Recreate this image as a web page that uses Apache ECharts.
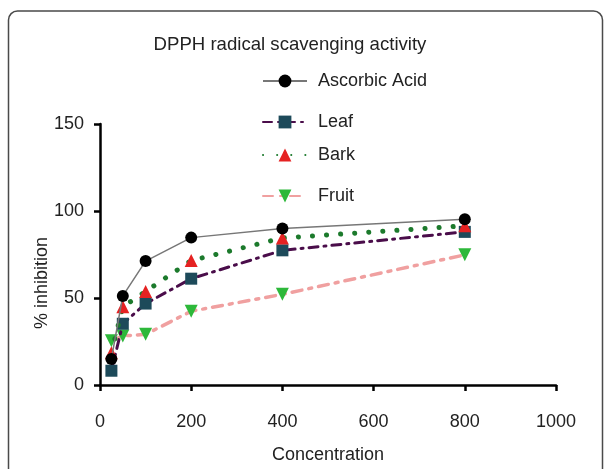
<!DOCTYPE html>
<html>
<head>
<meta charset="utf-8">
<script src="https://cdn.jsdelivr.net/npm/echarts@6/dist/echarts.min.js"></script>
<style>html,body{margin:0;padding:0;background:#fff;}#c{width:604px;height:469px;}</style>
</head>
<body>
<div id="c"></div>
<script>
const concentrations = [25, 50, 100, 200, 400, 800];
const ascorbicAcid = [15, 51.2, 71.2, 84.7, 90, 95.3];
const leaf = [8.2, 35.2, 46.8, 61.1, 77.4, 88];
const bark = [18.6, 44.9, 53.8, 71.5, 84.5, 91.5];
const fruit = [25.5, 28.2, 29.1, 42.4, 52.1, 74.8];
const seriesNames = ['Ascorbic Acid', 'Leaf', 'Bark', 'Fruit'];
const xTicks = [0, 200, 400, 600, 800, 1000];
const yTicks = [0, 50, 100, 150];

const pair = (ys) => concentrations.map((x, i) => [x, ys[i]]);
const FONT = 'Liberation Sans, Arial, sans-serif';

const chart = echarts.init(document.getElementById('c'));
const legendCenters = [80, 121, 154, 195];
chart.setOption({
  animation: false,
  title: {
    text: 'DPPH radical scavenging activity',
    left: 285, top: 30, textAlign: 'center',
    textStyle: {fontFamily: FONT, fontSize: 18.6, fontWeight: 'normal', color: '#222'}
  },
  legend: seriesNames.map((n, i) => ({
    data: [n], left: 262, top: legendCenters[i] - 8, padding: 0, itemWidth: 44, itemHeight: 16, itemGap: 10,
    textStyle: {fontFamily: FONT, fontSize: 18, color: '#222', padding: [0, 0, 0, 6]}
  })),
  graphic: [
    {type: 'rect', shape: {x: 8.5, y: 11, width: 594, height: 480, r: 9}, style: {fill: 'none', stroke: '#4a4a4a', lineWidth: 1.5}, z: -1},
    {type: 'text', x: 42, y: 283, rotation: Math.PI / 2, style: {text: '% inhibition', fontFamily: FONT, fontSize: 18, fill: '#222', align: 'center', verticalAlign: 'middle'}}
  ],
  grid: {left: 100, right: 48, top: 124, bottom: 82},
  xAxis: {
    type: 'value', min: 0, max: 1000, interval: 200,
    name: 'Concentration', nameLocation: 'middle', nameGap: 61,
    nameTextStyle: {fontFamily: FONT, fontSize: 18, color: '#222'},
    axisLine: {show: true, onZero: false, lineStyle: {color: '#000', width: 2.5}},
    axisTick: {show: true, inside: false, length: 6, lineStyle: {color: '#000', width: 2.5}},
    axisLabel: {fontFamily: FONT, fontSize: 18, color: '#222', margin: 28, formatter: v => xTicks.includes(v) ? String(v) : ''},
    splitLine: {show: false}
  },
  yAxis: {
    type: 'value', min: 0, max: 150, interval: 50,
    axisLine: {show: true, lineStyle: {color: '#000', width: 2.5}},
    axisTick: {show: true, inside: false, length: 6, lineStyle: {color: '#000', width: 2.5}},
    axisLabel: {fontFamily: FONT, fontSize: 18, color: '#222', margin: 16, formatter: v => yTicks.includes(v) ? String(v) : ''},
    splitLine: {show: false}
  },
  series: [
    {name: seriesNames[0], type: 'line', data: pair(ascorbicAcid), symbol: 'circle', symbolSize: 12,
      itemStyle: {color: '#000'}, lineStyle: {color: '#777', width: 1.5, type: 'solid'}, z: 5},
    {name: seriesNames[1], type: 'line', data: pair(leaf), symbol: 'rect', symbolSize: 12,
      itemStyle: {color: '#1d4a5a'}, lineStyle: {color: '#4a0d4a', width: 3, type: [9, 6, 2, 6], cap: 'round'}, z: 3},
    {name: seriesNames[2], type: 'line', data: pair(bark), symbol: 'triangle', symbolSize: 13,
      itemStyle: {color: '#e52222'}, lineStyle: {color: '#1c7a2c', width: 5, type: [0.1, 14], cap: 'round'}, z: 4},
    {name: seriesNames[3], type: 'line', data: pair(fruit), symbol: 'triangle', symbolRotate: 180, symbolSize: 13,
      itemStyle: {color: '#2db83a'}, lineStyle: {color: '#f0a0a0', width: 3.5, type: [10, 7, 3, 7], cap: 'round'}, z: 2}
  ]
});
</script>
</body>
</html>
